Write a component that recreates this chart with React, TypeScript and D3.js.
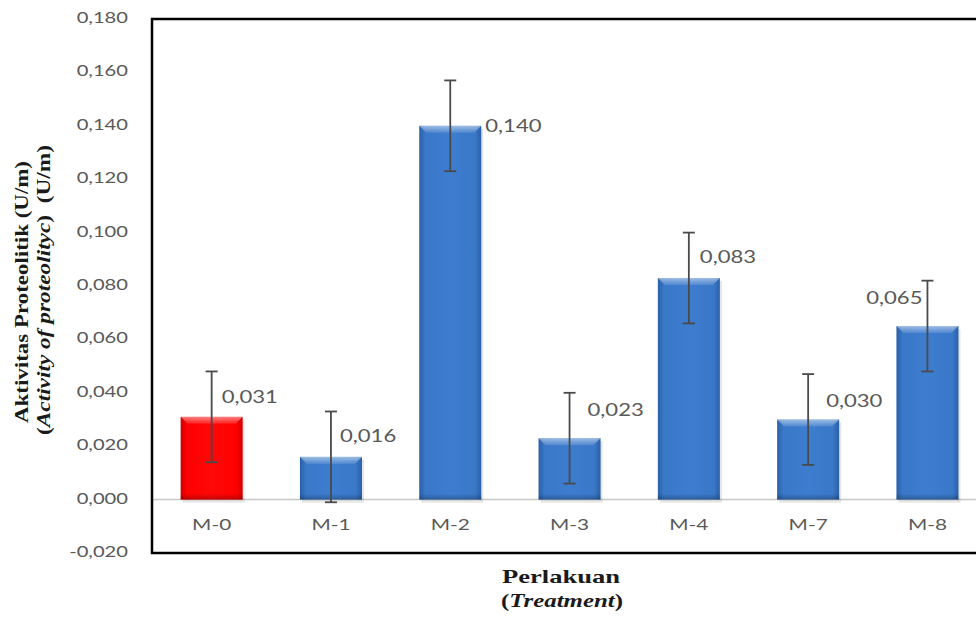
import React from "react";
import * as d3 from "d3";

const categories = ["M-0", "M-1", "M-2", "M-3", "M-4", "M-7", "M-8"];
const values = [0.031, 0.016, 0.14, 0.023, 0.083, 0.03, 0.065];
const errors = [0.017, 0.017, 0.017, 0.017, 0.017, 0.017, 0.017];
const yTicks = [-0.02, 0, 0.02, 0.04, 0.06, 0.08, 0.1, 0.12, 0.14, 0.16, 0.18];

// layout for value labels (dx from bar center, dy from bar top, anchor)
const labelLayout = [
  { dx: 10, dy: -18, anchor: "start" },
  { dx: 9, dy: -19, anchor: "start" },
  { dx: 35, dy: 2, anchor: "start" },
  { dx: 18, dy: -26, anchor: "start" },
  { dx: 11, dy: -19, anchor: "start" },
  { dx: 18, dy: -17, anchor: "start" },
  { dx: -5, dy: -26, anchor: "end" },
];

const W = 976;
const H = 618;
const left = 152;
const top = 19;
const bottom = 553;
const band = 119.3;
const SX = 1.3;

const locale = d3.formatLocale({ decimal: ",", thousands: ".", grouping: [3], currency: ["", ""], minus: "-" });
const fmt = locale.format(".3f");

const gray = "#595959";
const sans = "Lato, 'Open Sans', sans-serif";
const serif = "'Liberation Serif', 'DejaVu Serif', serif";

function ST(props: { x: number; y: number; anchor?: string; size: number; children: React.ReactNode }) {
  return (
    <g transform={`translate(${props.x},${props.y}) scale(${SX},1)`}>
      <text
        textAnchor={props.anchor || "start"}
        dominantBaseline="middle"
        fontFamily={sans}
        fontSize={props.size}
        fill={gray}
      >
        {props.children}
      </text>
    </g>
  );
}

export default function App() {
  const x = d3
    .scaleBand<string>()
    .domain(categories)
    .range([left, left + band * categories.length])
    .paddingInner(0.48)
    .paddingOuter(0.24);
  const y = d3.scaleLinear().domain([-0.02, 0.18]).range([bottom, top]);
  const bw = x.bandwidth();

  return (
    <svg width={W} height={H} style={{ position: "absolute", left: 0, top: 0, background: "#fff" }}>
      <defs>
        <linearGradient id="blueG" x1="0" x2="1" y1="0" y2="0">
          <stop offset="0" stopColor="#2a60a8" />
          <stop offset="0.1" stopColor="#3a78c8" />
          <stop offset="0.5" stopColor="#3d7dcf" />
          <stop offset="0.9" stopColor="#3a78c8" />
          <stop offset="1" stopColor="#2a60a8" />
        </linearGradient>
        <linearGradient id="redG" x1="0" x2="1" y1="0" y2="0">
          <stop offset="0" stopColor="#d00000" />
          <stop offset="0.1" stopColor="#ff0000" />
          <stop offset="0.5" stopColor="#ff0808" />
          <stop offset="0.9" stopColor="#ff0000" />
          <stop offset="1" stopColor="#d00000" />
        </linearGradient>
        <linearGradient id="topHi" x1="0" x2="0" y1="0" y2="1">
          <stop offset="0" stopColor="#ffffff" stopOpacity="0.5" />
          <stop offset="1" stopColor="#ffffff" stopOpacity="0.1" />
        </linearGradient>
        <linearGradient id="botSh" x1="0" x2="0" y1="0" y2="1">
          <stop offset="0" stopColor="#000000" stopOpacity="0" />
          <stop offset="1" stopColor="#000000" stopOpacity="0.25" />
        </linearGradient>
      </defs>

      {/* y tick labels */}
      {yTicks.map((t) => (
        <ST key={t} x={128} y={y(t)} anchor="end" size={15.5}>
          {fmt(t)}
        </ST>
      ))}

      {/* zero line */}
      <line x1={left} x2={W} y1={y(0)} y2={y(0)} stroke="#c8c8c8" strokeWidth={1.5} />

      {/* bars */}
      {categories.map((c, i) => {
        const v = values[i];
        const bx = x(c)!;
        const by = y(v);
        const bh = y(0) - y(v);
        const fill = i === 0 ? "url(#redG)" : "url(#blueG)";
        const b = Math.min(7, bh / 2);
        return (
          <g key={c}>
            <rect x={bx + 2} y={by + 3} width={bw} height={bh} fill="#000" opacity={0.1} />
            <rect x={bx} y={by} width={bw} height={bh} fill={fill} />
            <path
              d={`M${bx},${by} L${bx + bw},${by} L${bx + bw - b},${by + b} L${bx + b},${by + b} Z`}
              fill="url(#topHi)"
            />
            <rect x={bx} y={by + bh - Math.min(6, bh)} width={bw} height={Math.min(6, bh)} fill="url(#botSh)" />
          </g>
        );
      })}

      {/* error bars */}
      {categories.map((c, i) => {
        const cx = x(c)! + bw / 2;
        const y1 = y(values[i] + errors[i]);
        const y2 = y(values[i] - errors[i]);
        return (
          <g key={c} stroke="#4a4a4a" strokeWidth={1.8}>
            <line x1={cx} x2={cx} y1={y1} y2={y2} />
            <line x1={cx - 6} x2={cx + 6} y1={y1} y2={y1} />
            <line x1={cx - 6} x2={cx + 6} y1={y2} y2={y2} />
          </g>
        );
      })}

      {/* value labels */}
      {categories.map((c, i) => {
        const cx = x(c)! + bw / 2;
        const L = labelLayout[i];
        return (
          <ST key={c} x={cx + L.dx} y={y(values[i]) + L.dy} anchor={L.anchor} size={17}>
            {fmt(values[i])}
          </ST>
        );
      })}

      {/* x tick labels */}
      {categories.map((c) => (
        <ST key={c} x={x(c)! + bw / 2} y={526} anchor="middle" size={16}>
          {c}
        </ST>
      ))}

      {/* frame */}
      <rect
        x={left}
        y={top}
        width={band * categories.length}
        height={bottom - top}
        fill="none"
        stroke="#000"
        strokeWidth={2.5}
      />

      {/* y axis title */}
      <g transform="translate(24,292) rotate(-90)">
        <text
          textAnchor="middle"
          dominantBaseline="middle"
          fontFamily={serif}
          fontWeight="bold"
          fontSize={19}
          fill="#1a1a1a"
          textLength={262}
          lengthAdjust="spacingAndGlyphs"
        >
          Aktivitas Proteolitik (U/m)
        </text>
      </g>
      <g transform="translate(46,290) rotate(-90)">
        <text
          textAnchor="middle"
          dominantBaseline="middle"
          fontFamily={serif}
          fontWeight="bold"
          fontSize={19}
          fill="#1a1a1a"
          textLength={290}
          lengthAdjust="spacingAndGlyphs"
          xmlSpace="preserve"
        >
          (<tspan fontStyle="italic">Activity of proteolityc</tspan>)  (U/m)
        </text>
      </g>

      {/* x axis title */}
      <text
        x={561}
        y={579}
        textAnchor="middle"
        dominantBaseline="middle"
        fontFamily={serif}
        fontWeight="bold"
        fontSize={19}
        fill="#1a1a1a"
        textLength={118}
        lengthAdjust="spacingAndGlyphs"
      >
        Perlakuan
      </text>
      <text
        x={562}
        y={603}
        textAnchor="middle"
        dominantBaseline="middle"
        fontFamily={serif}
        fontWeight="bold"
        fontSize={19}
        fill="#1a1a1a"
        textLength={122}
        lengthAdjust="spacingAndGlyphs"
      >
        (<tspan fontStyle="italic">Treatment</tspan>)
      </text>
    </svg>
  );
}
